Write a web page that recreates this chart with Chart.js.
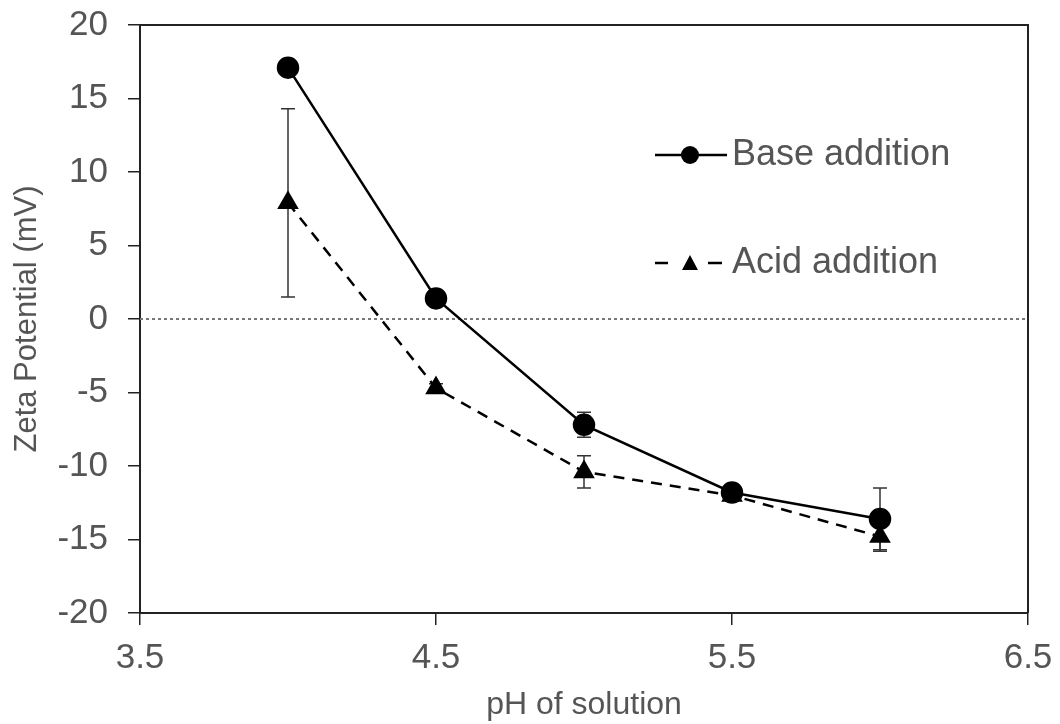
<!DOCTYPE html>
<html>
<head>
<meta charset="utf-8">
<script src="https://cdn.jsdelivr.net/npm/chart.js@4.4.1/dist/chart.umd.min.js"></script>
<style>
  html, body { margin: 0; padding: 0; background: #fff; }
  #wrap { width: 1060px; height: 724px; }
</style>
</head>
<body>
<div id="wrap"><canvas id="zetaChart"></canvas></div>
<script>
const phValues = [4.0, 4.5, 5.0, 5.5, 6.0];
const baseAddition = [17.1, 1.4, -7.2, -11.8, -13.6];
const baseError = [0.3, 0.3, 0.85, 0.4, 2.1];
const acidAddition = [7.9, -4.7, -10.4, -12.0, -14.8];
const acidError = [6.4, 0.3, 1.1, 0.4, 1.0];
const xTicks = [3.5, 4.5, 5.5, 6.5];
const yTicks = [-20, -15, -10, -5, 0, 5, 10, 15, 20];

const textGrey = "#555";
const fontFamily = "'Liberation Sans', Arial, sans-serif";

// error bars, frame, zero line and legend
const extrasPlugin = {
  id: "extras",
  beforeDatasetsDraw(chart) {
    const { ctx, chartArea: a, scales } = chart;
    const y0 = scales.y.getPixelForValue(0);
    ctx.save();
    ctx.strokeStyle = "#777";
    ctx.lineWidth = 2;
    ctx.setLineDash([3, 3]);
    ctx.beginPath();
    ctx.moveTo(a.left, y0);
    ctx.lineTo(a.right, y0);
    ctx.stroke();
    ctx.restore();

    ctx.save();
    ctx.strokeStyle = "#333";
    ctx.lineWidth = 1.5;
    const errs = [baseError, acidError];
    chart.data.datasets.forEach((ds, i) => {
      ds.data.forEach((p, j) => {
        const e = errs[i][j];
        const x = scales.x.getPixelForValue(p.x);
        const yt = scales.y.getPixelForValue(p.y + e);
        const yb = scales.y.getPixelForValue(p.y - e);
        ctx.beginPath();
        ctx.moveTo(x, yt); ctx.lineTo(x, yb);
        ctx.moveTo(x - 7, yt); ctx.lineTo(x + 7, yt);
        ctx.moveTo(x - 7, yb); ctx.lineTo(x + 7, yb);
        ctx.stroke();
      });
    });
    ctx.restore();
  },
  afterDraw(chart) {
    const { ctx, chartArea: a } = chart;
    ctx.save();
    ctx.strokeStyle = "#222";
    ctx.lineWidth = 2;
    ctx.beginPath();
    ctx.moveTo(a.left, a.top);
    ctx.lineTo(a.right, a.top);
    ctx.lineTo(a.right, a.bottom);
    ctx.stroke();

    // legend
    ctx.fillStyle = "#000";
    ctx.strokeStyle = "#000";
    ctx.lineWidth = 2.5;
    ctx.beginPath();
    ctx.moveTo(655, 155); ctx.lineTo(727, 155);
    ctx.stroke();
    ctx.beginPath();
    ctx.arc(690, 155, 9, 0, Math.PI * 2);
    ctx.fill();

    ctx.beginPath();
    ctx.moveTo(655, 263); ctx.lineTo(668, 263);
    ctx.moveTo(708, 263); ctx.lineTo(722, 263);
    ctx.stroke();
    ctx.beginPath();
    ctx.moveTo(690, 255); ctx.lineTo(698, 270); ctx.lineTo(682, 270);
    ctx.closePath();
    ctx.fill();

    ctx.fillStyle = textGrey;
    ctx.font = "36px " + fontFamily;
    ctx.textBaseline = "middle";
    ctx.fillText("Base addition", 732, 155);
    ctx.fillText("Acid addition", 732, 263);
    ctx.restore();
  }
};

new Chart(document.getElementById("zetaChart"), {
  type: "scatter",
  data: {
    datasets: [
      {
        label: "Base addition",
        data: phValues.map((x, i) => ({ x, y: baseAddition[i] })),
        showLine: true,
        borderColor: "#000",
        backgroundColor: "#000",
        borderWidth: 2.5,
        pointStyle: "circle",
        pointRadius: 10,
        pointHoverRadius: 10,
      },
      {
        label: "Acid addition",
        data: phValues.map((x, i) => ({ x, y: acidAddition[i] })),
        showLine: true,
        borderColor: "#000",
        backgroundColor: "#000",
        borderWidth: 2.5,
        borderDash: [11, 8],
        pointStyle: "triangle",
        pointRadius: 10,
        pointHoverRadius: 10,
      },
    ],
  },
  options: {
    responsive: true,
    maintainAspectRatio: false,
    animation: false,
    layout: { padding: { top: 25, right: 32, left: 0, bottom: 0 } },
    plugins: {
      legend: { display: false },
      tooltip: { enabled: false },
    },
    scales: {
      x: {
        type: "linear",
        min: 3.5,
        max: 6.5,
        afterBuildTicks: (s) => { s.ticks = xTicks.map((v) => ({ value: v })); },
        afterFit: (s) => { s.height = 111; s.paddingLeft = 0; s.paddingRight = 0; },
        border: { color: "#222", width: 2 },
        grid: { drawOnChartArea: false, color: "#222", tickLength: 12, lineWidth: 1.5 },
        ticks: {
          color: textGrey,
          font: { size: 35, family: fontFamily },
          padding: 12,
          callback: (v) => v.toFixed(1),
        },
        title: {
          display: true,
          text: "pH of solution",
          color: textGrey,
          font: { size: 32, family: fontFamily },
          padding: { top: 4, bottom: 0 },
        },
      },
      y: {
        type: "linear",
        min: -20,
        max: 20,
        afterBuildTicks: (s) => { s.ticks = yTicks.map((v) => ({ value: v })); },
        afterFit: (s) => { s.width = 140; s.paddingTop = 0; s.paddingBottom = 0; },
        border: { color: "#222", width: 2 },
        grid: { drawOnChartArea: false, color: "#222", tickLength: 12, lineWidth: 1.5 },
        ticks: {
          color: textGrey,
          font: { size: 35, family: fontFamily },
          padding: 20,
        },
        title: {
          display: true,
          text: "Zeta Potential (mV)",
          color: textGrey,
          font: { size: 31, family: fontFamily },
          padding: { top: 9, bottom: 0 },
        },
      },
    },
  },
  plugins: [extrasPlugin],
});
</script>
</body>
</html>
